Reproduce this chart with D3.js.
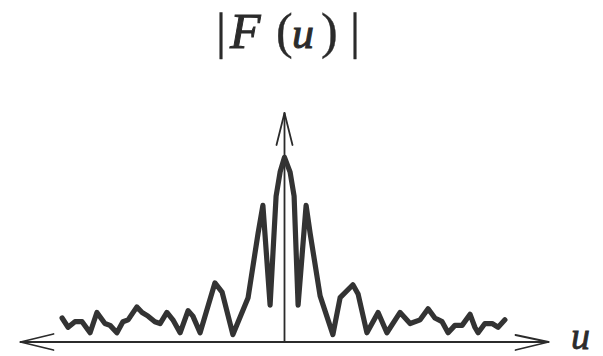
<!DOCTYPE html>
<html>
<head>
<meta charset="utf-8">
<script src="https://cdn.jsdelivr.net/npm/d3@7/dist/d3.min.js"></script>
<style>
  html, body { margin: 0; padding: 0; background: #fff; }
  svg { display: block; }
</style>
</head>
<body>
<div id="chart"></div>
<script>
// ---- data ----
const uValues = [
  -55.6, -54.1, -52.4, -50.6, -48.6, -46.9, -44.9, -43.6, -41.9, -40.4, -39.1,
  -36.9, -35.6, -34.1, -32.4, -31.1, -29.4, -27.9, -26.1, -24.1, -22.9, -21.1,
  -17.4, -15.6, -12.9, -9.1, -6.6, -5.4, -3.6, -2.1, -1.1, 0,
  1.4, 2.4, 3.4, 5.4, 6.4, 8.9, 12.1, 13.9, 17.1, 18.4, 20.6, 23.4, 25.6,
  28.9, 31.4, 33.9, 35.9, 37.6, 39.4, 40.9, 42.6, 44.4, 46.4, 47.6, 48.4,
  50.1, 51.9, 53.4, 55.1
];
const magnitude = [
  13, 8, 11, 11, 5, 16, 10, 9, 5, 11, 12,
  19, 16, 14, 11, 10, 16, 12, 5, 17, 14, 5,
  32, 27, 4, 24, 59, 74, 20, 79, 92, 100,
  92, 79, 20, 74, 59, 25, 4, 24, 31, 26, 5, 16, 5,
  16, 10, 12, 18, 13, 11, 5, 9, 9, 15, 8, 5,
  10, 10, 8, 12
];
const uDomain = [-66, 66];
const magDomain = [0, 124];
const titleParts = ["|", "F", "(", "u", ")", "|"];
const axisLabel = "u";

// ---- drawing ----
const W = 603, H = 356;
const svg = d3.select("#chart").append("svg")
  .attr("width", W).attr("height", H)
  .style("background", "#fff");

const x = d3.scaleLinear().domain(uDomain).range([20.5, 548.5]);
const y = d3.scaleLinear().domain(magDomain).range([342, 113]);

const ink = "#2b2b2b";

// horizontal axis with arrows at both ends
const gAx = svg.append("g").attr("stroke", ink).attr("fill", "none")
  .attr("stroke-width", 1.8).attr("stroke-linecap", "round").attr("stroke-linejoin", "round");
gAx.append("line")
  .attr("x1", x(uDomain[0])).attr("x2", x(uDomain[1]))
  .attr("y1", y(0)).attr("y2", y(0));
gAx.append("path").attr("d", d3.line()([
  [x(uDomain[0]) + 33, y(0) - 8], [x(uDomain[0]), y(0)], [x(uDomain[0]) + 33, y(0) + 8]
]));
gAx.append("path").attr("d", d3.line()([
  [x(uDomain[1]) - 33, y(0) - 7], [x(uDomain[1]), y(0)], [x(uDomain[1]) - 33, y(0) + 8]
]));
// vertical axis
gAx.append("line")
  .attr("x1", x(0)).attr("x2", x(0))
  .attr("y1", y(0)).attr("y2", y(magDomain[1]));
gAx.append("path").attr("d", d3.line()([
  [x(0) - 8, y(magDomain[1]) + 32], [x(0), y(magDomain[1])], [x(0) + 8, y(magDomain[1]) + 32]
]));

// the |F(u)| curve
const pts = uValues.map((u, i) => [u, magnitude[i]]);
svg.append("path")
  .datum(pts)
  .attr("fill", "none")
  .attr("stroke", "#333")
  .attr("stroke-width", 5.2)
  .attr("stroke-linejoin", "round")
  .attr("stroke-linecap", "round")
  .attr("d", d3.line().x(d => x(d[0])).y(d => y(d[1])));

// title |F(u)|
const titleX = [216, 230, 276, 292, 321, 350];
const titleSize = [50, 50, 50, 44, 50, 50];
const titleStyle = ["normal", "italic", "normal", "italic", "normal", "normal"];
svg.append("g").selectAll("text").data(titleParts).join("text")
  .attr("x", (d, i) => titleX[i])
  .attr("y", 48)
  .attr("font-family", "'Liberation Serif', 'Times New Roman', serif")
  .attr("font-size", (d, i) => titleSize[i])
  .attr("font-style", (d, i) => titleStyle[i])
  .attr("fill", ink)
  .attr("stroke", ink)
  .attr("stroke-width", (d, i) => (titleStyle[i] === "italic" ? 1 : 0.4))
  .text(d => d);

// axis label u
svg.append("text")
  .attr("x", 571).attr("y", 349)
  .attr("font-family", "'Liberation Serif', 'Times New Roman', serif")
  .attr("font-size", 38)
  .attr("font-style", "italic")
  .attr("fill", ink)
  .attr("stroke", ink)
  .attr("stroke-width", 0.8)
  .text(axisLabel);
</script>
</body>
</html>
